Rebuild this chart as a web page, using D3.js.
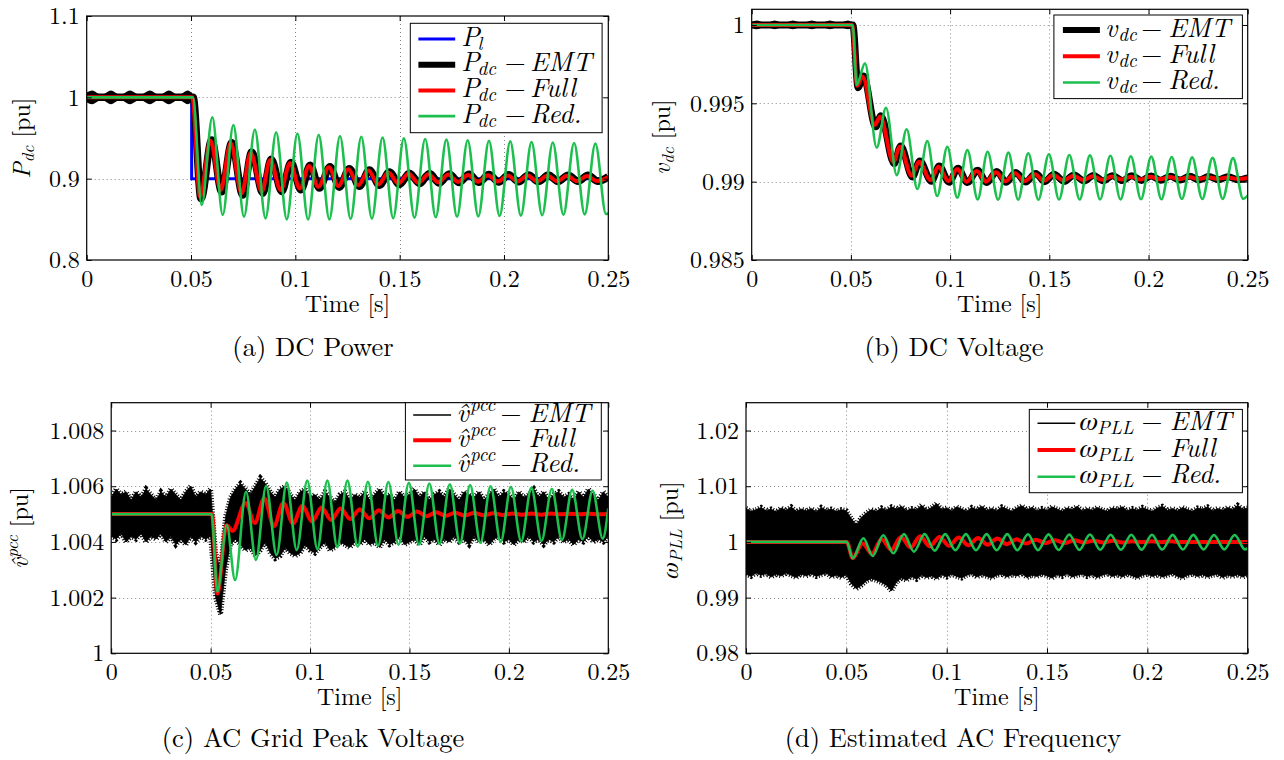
<!DOCTYPE html>
<html>
<head>
<meta charset="utf-8">
<script src="https://cdn.jsdelivr.net/npm/d3@7/dist/d3.min.js"></script>
<style>
  html,body{margin:0;padding:0;background:#fff;}
  svg{display:block;}
  svg text{font-family:"Latin Modern Roman","Liberation Serif",serif; white-space:pre;}
  svg text.greek, svg tspan.greek{font-family:"FreeSerif","Liberation Serif",serif;}
</style>
</head>
<body>
<svg id="chart" width="1284" height="760" xmlns="http://www.w3.org/2000/svg"></svg>
<script>
// ---------------- DATA ----------------
const timeTicks = [0, 0.05, 0.1, 0.15, 0.2, 0.25];
const timeTickText = ["0", "0.05", "0.1", "0.15", "0.2", "0.25"];

const yTicksA = [0.8, 0.9, 1, 1.1];
const yTickTextA = ["0.8", "0.9", "1", "1.1"];
const yTicksB = [0.985, 0.99, 0.995, 1];
const yTickTextB = ["0.985", "0.99", "0.995", "1"];
const yTicksC = [1, 1.002, 1.004, 1.006, 1.008];
const yTickTextC = ["1", "1.002", "1.004", "1.006", "1.008"];
const yTicksD = [0.98, 0.99, 1, 1.01, 1.02];
const yTickTextD = ["0.98", "0.99", "1", "1.01", "1.02"];

const captions = ["(a) DC Power", "(b) DC Voltage", "(c) AC Grid Peak Voltage", "(d) Estimated AC Frequency"];
const xAxisTitle = "Time [s]";

// (a) DC power: load step P_l
const plT = [0, 0.0503, 0.25];
const plV = [1.0, 0.9, 0.9];

// (a) extremum points [time, value]
const pdcEMT = [[0,1.0],[0.0510,1.0],[0.0548,0.8755],[0.0599,0.9475],[0.0647,0.8840],[0.0695,0.9443],[0.0748,0.8800],[0.0791,0.9328],[0.0844,0.8822],[0.0884,0.9238],[0.0935,0.8843],[0.0979,0.9198],[0.1027,0.8864],[0.1071,0.9164],[0.1115,0.8885],[0.1166,0.9148],[0.1211,0.8896],[0.1259,0.9123],[0.1307,0.8907],[0.1355,0.9108],[0.1403,0.8918],[0.1451,0.9083],[0.1499,0.8929],[0.1547,0.9068],[0.1595,0.8940],[0.1643,0.9063],[0.1690,0.8946],[0.1738,0.9058],[0.1785,0.8952],[0.1833,0.9053],[0.1880,0.8956],[0.1928,0.9050],[0.1975,0.8959],[0.2023,0.9048],[0.2070,0.8962],[0.2118,0.9046],[0.2165,0.8964],[0.2213,0.9044],[0.2260,0.8966],[0.2308,0.9043],[0.2355,0.8967],[0.2403,0.9042],[0.2450,0.8968],[0.25,0.9025]];
const pdcFull = [[0,1.0],[0.0506,1.0],[0.0543,0.8778],[0.0594,0.9467],[0.0642,0.8860],[0.0690,0.9435],[0.0743,0.8820],[0.0786,0.9320],[0.0839,0.8840],[0.0879,0.9230],[0.0930,0.8860],[0.0974,0.9190],[0.1022,0.8880],[0.1066,0.9156],[0.1110,0.8900],[0.1161,0.9140],[0.1206,0.8910],[0.1254,0.9115],[0.1302,0.8920],[0.1350,0.9100],[0.1398,0.8930],[0.1446,0.9075],[0.1494,0.8940],[0.1542,0.9060],[0.1590,0.8950],[0.1638,0.9055],[0.1685,0.8955],[0.1733,0.9050],[0.1780,0.8960],[0.1828,0.9045],[0.1875,0.8963],[0.1923,0.9042],[0.1970,0.8965],[0.2018,0.9040],[0.2065,0.8967],[0.2113,0.9038],[0.2160,0.8968],[0.2208,0.9036],[0.2255,0.8970],[0.2303,0.9035],[0.2350,0.8970],[0.2398,0.9034],[0.2445,0.8971],[0.25,0.9020]];
const pdcRed = [[0,1.0],[0.0509,1.0],[0.0551,0.8676],[0.0602,0.9755],[0.0652,0.8553],[0.0703,0.9660],[0.0754,0.8533],[0.0806,0.9605],[0.0857,0.8512],[0.0908,0.9570],[0.0959,0.8500],[0.1010,0.9556],[0.1061,0.8498],[0.1112,0.9538],[0.1163,0.8500],[0.1214,0.9525],[0.1265,0.8504],[0.1316,0.9515],[0.1367,0.8509],[0.1418,0.9505],[0.1469,0.8514],[0.1520,0.9496],[0.1571,0.8520],[0.1622,0.9488],[0.1673,0.8526],[0.1724,0.9480],[0.1775,0.8531],[0.1826,0.9472],[0.1877,0.8536],[0.1928,0.9465],[0.1979,0.8541],[0.2030,0.9458],[0.2081,0.8546],[0.2132,0.9451],[0.2183,0.8551],[0.2234,0.9445],[0.2285,0.8556],[0.2336,0.9438],[0.2387,0.8561],[0.2438,0.9432],[0.2489,0.8566],[0.25,0.8572]];

// pre-step switching ripple of the EMT traces (bulge / neck half widths)
const rippleT = [0, 0.0026, 0.0071, 0.0116, 0.0161, 0.0207, 0.0255, 0.0303, 0.0348, 0.0394, 0.0440, 0.0485, 0.0508];
const rippleHalfA = [0.006, 0.0085, 0.003, 0.0085, 0.003, 0.0085, 0.003, 0.0085, 0.003, 0.0085, 0.003, 0.0085, 0.004];
const rippleHalfB = [0.0002, 0.00028, 0.00012, 0.00028, 0.00012, 0.00028, 0.00012, 0.00028, 0.00012, 0.00028, 0.00012, 0.00028, 0.00015];

// (b) DC voltage
const vdcEMT = [[0,1.0],[0.0510,1.0],[0.0536,0.99600],[0.0563,0.99675],[0.0625,0.99350],[0.0651,0.99420],[0.0718,0.99115],[0.0751,0.99228],[0.0810,0.99030],[0.0847,0.99132],[0.0906,0.99002],[0.0945,0.99100],[0.0995,0.98997],[0.1040,0.99086],[0.1087,0.98994],[0.1138,0.99073],[0.1185,0.98994],[0.1235,0.99065],[0.1283,0.98996],[0.1331,0.99058],[0.1380,0.98998],[0.1432,0.99052],[0.1476,0.99000],[0.1524,0.99047],[0.1575,0.99002],[0.1625,0.99043],[0.1676,0.99004],[0.1722,0.99040],[0.1771,0.99006],[0.1819,0.99038],[0.1868,0.99007],[0.1916,0.99037],[0.1965,0.99008],[0.2013,0.99036],[0.2062,0.99009],[0.2110,0.99035],[0.2159,0.99010],[0.2207,0.99034],[0.2256,0.99011],[0.2304,0.99033],[0.2353,0.99012],[0.2401,0.99032],[0.2450,0.99012],[0.25,0.99025]];
const vdcFull = [[0,1.0],[0.0506,1.0],[0.0532,0.99612],[0.0559,0.99670],[0.0621,0.99362],[0.0647,0.99415],[0.0714,0.99127],[0.0747,0.99223],[0.0806,0.99038],[0.0843,0.99127],[0.0902,0.99010],[0.0941,0.99095],[0.0991,0.99004],[0.1036,0.99081],[0.1083,0.99000],[0.1134,0.99068],[0.1181,0.99000],[0.1231,0.99060],[0.1279,0.99002],[0.1327,0.99053],[0.1376,0.99004],[0.1428,0.99047],[0.1472,0.99006],[0.1520,0.99042],[0.1571,0.99008],[0.1621,0.99038],[0.1672,0.99010],[0.1718,0.99035],[0.1767,0.99012],[0.1815,0.99033],[0.1864,0.99013],[0.1912,0.99032],[0.1961,0.99014],[0.2009,0.99031],[0.2058,0.99015],[0.2106,0.99030],[0.2155,0.99016],[0.2203,0.99029],[0.2252,0.99017],[0.2300,0.99028],[0.2349,0.99018],[0.2397,0.99027],[0.2446,0.99018],[0.25,0.99024]];
const vdcRed = [[0,1.0],[0.0509,1.0],[0.0529,0.99617],[0.0571,0.99755],[0.0630,0.99217],[0.0677,0.99472],[0.0731,0.99042],[0.0781,0.99334],[0.0835,0.98953],[0.0885,0.99259],[0.0935,0.98908],[0.0986,0.99223],[0.1036,0.98898],[0.1087,0.99202],[0.1139,0.98887],[0.1189,0.99191],[0.1242,0.98885],[0.1294,0.99185],[0.1343,0.98885],[0.1394,0.99181],[0.1445,0.98885],[0.1498,0.99175],[0.1549,0.98886],[0.1601,0.99170],[0.1653,0.98886],[0.1705,0.99168],[0.1756,0.98887],[0.1808,0.99165],[0.1859,0.98887],[0.1911,0.99162],[0.1962,0.98888],[0.2014,0.99160],[0.2065,0.98888],[0.2117,0.99157],[0.2168,0.98889],[0.2220,0.99155],[0.2271,0.98889],[0.2323,0.99152],[0.2374,0.98890],[0.2426,0.99150],[0.2477,0.98890],[0.25,0.98910]];

// (c),(d) EMT traces: noisy band, upper/lower envelope sampled every 2.5 ms
const bandStep = 0.0025;
const vpccEMTUpper = [1.0056,1.0059,1.0057,1.0058,1.0055,1.0058,1.0056,1.0059,1.0057,1.0055,1.0058,1.0056,1.0059,1.0057,1.0055,1.0058,1.0060,1.0056,1.0058,1.0057,1.0059,
  1.0036,1.0030,1.0049,1.0056,1.0059,1.0061,1.0059,1.0057,1.0060,1.0063,1.0061,1.0058,1.0056,1.0059,1.0060,1.0057,1.0055,1.0058,1.0059,
  1.0056,1.0057,1.0055,1.0058,1.0056,1.0054,1.0057,1.0058,1.0055,1.0057,1.0056,1.0058,1.0055,1.0057,1.0059,1.0056,1.0057,1.0055,1.0058,1.0056,
  1.0057,1.0059,1.0056,1.0058,1.0055,1.0057,1.0058,1.0056,1.0059,1.0057,1.0055,1.0058,1.0057,1.0056,1.0058,1.0055,1.0057,1.0059,1.0056,1.0058,
  1.0057,1.0055,1.0058,1.0056,1.0057,1.0059,1.0056,1.0058,1.0055,1.0057,1.0058,1.0056,1.0057,1.0055,1.0058,1.0056,1.0059,1.0057,1.0055,1.0058,1.0056];
const vpccEMTLower = [1.0042,1.0041,1.0043,1.0040,1.0042,1.0041,1.0043,1.0040,1.0042,1.0041,1.0043,1.0040,1.0042,1.0039,1.0041,1.0039,1.0042,1.0040,1.0042,1.0041,1.0042,
  1.0020,1.0014,1.0030,1.0039,1.0041,1.0039,1.0037,1.0038,1.0035,1.0037,1.0040,1.0036,1.0034,1.0035,1.0038,1.0036,1.0035,1.0036,1.0039,
  1.0037,1.0036,1.0038,1.0040,1.0037,1.0038,1.0040,1.0039,1.0038,1.0040,1.0039,1.0041,1.0039,1.0040,1.0038,1.0041,1.0039,1.0040,1.0042,1.0039,
  1.0040,1.0041,1.0039,1.0042,1.0040,1.0041,1.0039,1.0041,1.0040,1.0042,1.0040,1.0041,1.0039,1.0042,1.0040,1.0041,1.0039,1.0041,1.0042,1.0040,
  1.0041,1.0039,1.0041,1.0040,1.0042,1.0040,1.0041,1.0039,1.0041,1.0040,1.0042,1.0040,1.0041,1.0039,1.0041,1.0040,1.0042,1.0040,1.0041,1.0040,1.0042];
const vpccFull = [[0,1.005],[0.0507,1.005],[0.0534,1.00215],[0.0580,1.00460],[0.0610,1.00440],[0.0676,1.00540],[0.0722,1.00468],[0.0770,1.00557],[0.0818,1.00457],[0.0866,1.00540],[0.0914,1.00467],[0.0962,1.00530],[0.1010,1.00473],[0.1058,1.00524],[0.1106,1.00479],[0.1154,1.00520],[0.1202,1.00482],[0.1250,1.00517],[0.1298,1.00485],[0.1346,1.00514],[0.1394,1.00488],[0.1442,1.00511],[0.1490,1.00490],[0.1538,1.00509],[0.1586,1.00492],[0.1634,1.00507],[0.1682,1.00494],[0.1730,1.00505],[0.1778,1.00495],[0.1826,1.00504],[0.1874,1.00496],[0.1922,1.00503],[0.1970,1.00497],[0.2018,1.00502],[0.2066,1.00498],[0.2114,1.00502],[0.2162,1.00498],[0.2210,1.00502],[0.2258,1.00499],[0.2306,1.00501],[0.2354,1.00499],[0.2402,1.00501],[0.2450,1.00499],[0.25,1.00500]];
const vpccRed = [[0,1.005],[0.0505,1.005],[0.0534,1.00221],[0.0581,1.00461],[0.0623,1.00263],[0.0678,1.00580],[0.0728,1.00335],[0.0779,1.00601],[0.0832,1.00353],[0.0883,1.00613],[0.0933,1.00371],[0.0986,1.00620],[0.1037,1.00375],[0.1087,1.00620],[0.1137,1.00381],[0.1188,1.00620],[0.1240,1.00383],[0.1291,1.00616],[0.1342,1.00386],[0.1394,1.00615],[0.1445,1.00390],[0.1497,1.00612],[0.1548,1.00390],[0.1600,1.00610],[0.1651,1.00393],[0.1703,1.00607],[0.1754,1.00395],[0.1805,1.00604],[0.1857,1.00397],[0.1908,1.00600],[0.1959,1.00400],[0.2010,1.00597],[0.2062,1.00402],[0.2113,1.00594],[0.2164,1.00404],[0.2216,1.00590],[0.2267,1.00407],[0.2318,1.00587],[0.2370,1.00410],[0.2421,1.00584],[0.2472,1.00412],[0.25,1.00520]];

const wpllEMTUpper = [1.0060,1.0055,1.0058,1.0062,1.0056,1.0059,1.0054,1.0061,1.0057,1.0063,1.0055,1.0059,1.0056,1.0060,1.0054,1.0062,1.0057,1.0059,1.0055,1.0058,1.0056,
  1.0042,1.0030,1.0044,1.0052,1.0058,1.0055,1.0061,1.0057,1.0063,1.0059,1.0064,1.0056,1.0060,1.0058,1.0066,1.0057,1.0062,1.0069,1.0058,
  1.0061,1.0056,1.0063,1.0059,1.0055,1.0062,1.0058,1.0064,1.0057,1.0060,1.0056,1.0063,1.0059,1.0055,1.0061,1.0065,1.0058,1.0062,1.0056,1.0060,
  1.0057,1.0063,1.0059,1.0055,1.0061,1.0058,1.0064,1.0056,1.0060,1.0057,1.0062,1.0058,1.0055,1.0061,1.0059,1.0063,1.0056,1.0060,1.0057,1.0062,
  1.0058,1.0055,1.0061,1.0064,1.0057,1.0060,1.0056,1.0062,1.0058,1.0055,1.0061,1.0059,1.0063,1.0056,1.0060,1.0057,1.0062,1.0058,1.0066,1.0059,1.0061];
const wpllEMTLower = [0.9942,0.9938,0.9944,0.9940,0.9943,0.9937,0.9942,0.9939,0.9944,0.9940,0.9936,0.9942,0.9939,0.9943,0.9938,0.9941,0.9944,0.9937,0.9940,0.9936,0.9941,
  0.9925,0.9916,0.9922,0.9930,0.9934,0.9931,0.9927,0.9922,0.9912,0.9928,0.9935,0.9931,0.9938,0.9933,0.9940,0.9936,0.9939,0.9934,0.9941,
  0.9937,0.9942,0.9938,0.9935,0.9940,0.9943,0.9937,0.9941,0.9938,0.9935,0.9940,0.9942,0.9937,0.9941,0.9939,0.9943,0.9936,0.9940,0.9938,0.9942,
  0.9939,0.9935,0.9941,0.9938,0.9943,0.9937,0.9940,0.9942,0.9938,0.9941,0.9936,0.9940,0.9943,0.9938,0.9941,0.9937,0.9942,0.9939,0.9935,0.9940,
  0.9942,0.9938,0.9941,0.9937,0.9940,0.9943,0.9938,0.9935,0.9940,0.9942,0.9938,0.9941,0.9937,0.9940,0.9942,0.9936,0.9940,0.9938,0.9941,0.9937,0.9941];
const wpllFull = [[0,1.0],[0.0502,1.0],[0.0532,0.9971],[0.0580,0.9997],[0.0628,0.9979],[0.0676,1.0005],[0.0724,0.9986],[0.0772,1.0009],[0.0820,0.9990],[0.0868,1.0010],[0.0916,0.9992],[0.0964,1.0009],[0.1012,0.9993],[0.1060,1.0008],[0.1108,0.9994],[0.1156,1.0007],[0.1204,0.9995],[0.1252,1.0006],[0.1300,0.9996],[0.1348,1.0005],[0.1396,0.9997],[0.1444,1.0004],[0.1492,0.9998],[0.1540,1.0003],[0.1588,0.9998],[0.1636,1.0003],[0.1684,0.9999],[0.1732,1.0002],[0.1780,0.9999],[0.1828,1.0002],[0.1876,0.9999],[0.1924,1.0001],[0.1972,0.99995],[0.2020,1.0001],[0.2068,0.99995],[0.2116,1.0001],[0.2164,1.0],[0.25,1.0]];
const wpllRed = [[0,1.0],[0.0502,1.0],[0.0532,0.99706],[0.0585,1.00065],[0.0631,0.99747],[0.0684,1.00120],[0.0734,0.99796],[0.0787,1.00140],[0.0837,0.99826],[0.0890,1.00140],[0.0940,0.99844],[0.0993,1.00140],[0.1043,0.99850],[0.1096,1.00140],[0.1146,0.99850],[0.1199,1.00140],[0.1249,0.99850],[0.1302,1.00140],[0.1352,0.99850],[0.1405,1.00138],[0.1455,0.99852],[0.1508,1.00136],[0.1558,0.99855],[0.1611,1.00134],[0.1661,0.99857],[0.1714,1.00132],[0.1765,0.99859],[0.1817,1.00130],[0.1868,0.99860],[0.1920,1.00130],[0.1971,0.99862],[0.2023,1.00128],[0.2074,0.99863],[0.2126,1.00127],[0.2177,0.99864],[0.2229,1.00126],[0.2280,0.99865],[0.2332,1.00125],[0.2383,0.99866],[0.2435,1.00124],[0.2486,0.99867],[0.25,0.99890]];

// legend texts
const legendA = [{sym:"P", scr:"l", word:null}, {sym:"P", scr:"dc", word:"EMT"}, {sym:"P", scr:"dc", word:"Full"}, {sym:"P", scr:"dc", word:"Red."}];
const legendB = [{sym:"v", scr:"dc", word:"EMT"}, {sym:"v", scr:"dc", word:"Full"}, {sym:"v", scr:"dc", word:"Red."}];
const legendC = [{sym:"v\u0302", scr:"pcc", word:"EMT"}, {sym:"v\u0302", scr:"pcc", word:"Full"}, {sym:"v\u0302", scr:"pcc", word:"Red."}];
const legendD = [{sym:"ω", scr:"PLL", word:"EMT", greek:true}, {sym:"ω", scr:"PLL", word:"Full", greek:true}, {sym:"ω", scr:"PLL", word:"Red.", greek:true}];

// ---------------- DRAWING ----------------
const COL = {blue:"#0000ff", black:"#000000", red:"#ff0000", green:"#1dbf4f"};
const svg = d3.select("#chart");
svg.append("rect").attr("width",1284).attr("height",760).attr("fill","#fff");
const defs = svg.append("defs");

function setupPanel(key, box, yDom, yTicks) {
  const x = d3.scaleLinear().domain([0, 0.25]).range([box.L, box.R]);
  const y = d3.scaleLinear().domain(yDom).range([box.B, box.T]);
  defs.append("clipPath").attr("id", "clip-" + key).append("rect")
    .attr("x", box.L).attr("y", box.T).attr("width", box.R - box.L).attr("height", box.B - box.T);
  const g = svg.append("g");
  const gg = g.append("g").attr("stroke", "#8a8a8a").attr("stroke-width", 1)
    .attr("stroke-dasharray", "1,3").attr("fill", "none");
  timeTicks.forEach(t => {
    if (t > 1e-9 && t < 0.25 - 1e-9) {
      const xx = Math.round(x(t)) + 0.5;
      gg.append("line").attr("x1", xx).attr("x2", xx).attr("y1", box.T).attr("y2", box.B);
    }
  });
  yTicks.forEach(v => {
    if (v > yDom[0] + 1e-9 && v < yDom[1] - 1e-9) {
      const yy = Math.round(y(v)) + 0.5;
      gg.append("line").attr("x1", box.L).attr("x2", box.R).attr("y1", yy).attr("y2", yy);
    }
  });
  const plot = g.append("g").attr("clip-path", `url(#clip-${key})`);
  return {key, box, x, y, g, plot};
}

function lineOf(P, data, color, width) {
  const gen = d3.line().x(d => P.x(d[0])).y(d => P.y(d[1])).curve(d3.curveMonotoneX);
  P.plot.append("path").attr("d", gen(data)).attr("fill", "none").attr("stroke", color)
    .attr("stroke-width", width).attr("stroke-linejoin", "round").attr("stroke-linecap", "butt");
}

function rippleBand(P, center, halves) {
  const pts = rippleT.map((t, i) => [t, halves[i]]);
  const area = d3.area().x(d => P.x(d[0])).y0(d => P.y(center - d[1])).y1(d => P.y(center + d[1])).curve(d3.curveMonotoneX);
  P.plot.append("path").attr("d", area(pts)).attr("fill", COL.black);
}

function noiseBand(P, upper, lower) {
  const pts = upper.map((u, i) => [i * bandStep, u, lower[i]]);
  const area = d3.area().x(d => P.x(d[0])).y0(d => P.y(d[2])).y1(d => P.y(d[1])).curve(d3.curveLinear);
  P.plot.append("path").attr("d", area(pts)).attr("fill", COL.black).attr("stroke", COL.black).attr("stroke-width", 0.7);
  // fuzzy edges (dense needle-like noise look)
  const up = d3.line().x(d => P.x(d[0])).y(d => P.y(d[1]));
  const lo = d3.line().x(d => P.x(d[0])).y(d => P.y(d[2]));
  [up, lo].forEach(gen => {
    P.plot.append("path").attr("d", gen(pts)).attr("fill", "none").attr("stroke", COL.black)
      .attr("stroke-width", 5).attr("stroke-dasharray", "1,1.7");
  });
}

function finishPanel(P, yTicks, yTickText) {
  const {box, x, y, g} = P;
  const style = sel => {
    sel.select(".domain").remove();
    sel.attr("font-size", 24);
    sel.selectAll("text").attr("fill", "#000");
    sel.selectAll("line").attr("stroke", "#000");
  };
  g.append("g").attr("transform", `translate(0,${box.B})`)
    .call(d3.axisBottom(x).tickValues(timeTicks).tickFormat((d, i) => timeTickText[i]).tickSize(-5).tickPadding(10)).call(style);
  g.append("g").attr("transform", `translate(0,${box.T})`)
    .call(d3.axisTop(x).tickValues(timeTicks).tickFormat(() => "").tickSize(-5)).call(style);
  g.append("g").attr("transform", `translate(${box.L},0)`)
    .call(d3.axisLeft(y).tickValues(yTicks).tickFormat((d, i) => yTickText[i]).tickSize(-5).tickPadding(7)).call(style);
  g.append("g").attr("transform", `translate(${box.R},0)`)
    .call(d3.axisRight(y).tickValues(yTicks).tickFormat(() => "").tickSize(-5)).call(style);
  g.append("rect").attr("x", box.L).attr("y", box.T).attr("width", box.R - box.L).attr("height", box.B - box.T)
    .attr("fill", "none").attr("stroke", "#000").attr("stroke-width", 1.2);
  g.append("text").attr("x", (box.L + box.R) / 2).attr("y", box.B + 52).attr("text-anchor", "middle")
    .attr("font-size", 24).text(xAxisTitle);
}

function yLabel(cx, cy, parts) {
  const t = svg.append("text").attr("transform", `translate(${cx + 8},${cy}) rotate(-90)`)
    .attr("text-anchor", "middle").attr("font-size", 24);
  parts.forEach(p => {
    const s = t.append("tspan").text(p.t).attr("font-style", p.it ? "italic" : "normal");
    if (p.greek) s.attr("class", "greek");
    if (p.size) s.attr("font-size", p.size);
    if (p.dy) s.attr("dy", p.dy);
    if (p.dx) s.attr("dx", p.dx);
  });
}

function caption(cx, base, txt) {
  svg.append("text").attr("x", cx).attr("y", base).attr("text-anchor", "middle").attr("font-size", 26.5).text(txt);
}

function legend(cfg, entries, styles) {
  const g = svg.append("g");
  g.append("rect").attr("x", cfg.box[0]).attr("y", cfg.box[1]).attr("width", cfg.box[2] - cfg.box[0])
    .attr("height", cfg.box[3] - cfg.box[1]).attr("fill", "#fff").attr("stroke", "#000").attr("stroke-width", 1);
  entries.forEach((e, i) => {
    const yl = cfg.rows[i];
    const base = yl + 6.5;
    g.append("line").attr("x1", cfg.s0).attr("x2", cfg.s1).attr("y1", yl).attr("y2", yl)
      .attr("stroke", styles[i].c).attr("stroke-width", styles[i].w);
    const s = g.append("text").attr("x", cfg.symX).attr("y", base).attr("font-style", "italic").attr("font-size", 27).text(e.sym);
    if (e.greek) s.attr("class", "greek");
    g.append("text").attr("x", cfg.scrX).attr("y", cfg.sup ? base - 11 : base + 4)
      .attr("font-style", "italic").attr("font-size", 19).text(e.scr);
    if (e.word) {
      g.append("text").attr("x", cfg.minusX).attr("y", base).attr("text-anchor", "middle").attr("font-size", 27).text("−");
      g.append("text").attr("x", cfg.wordX).attr("y", base).attr("font-style", "italic").attr("font-size", 27).text(e.word);
    }
  });
}

// ---- Panel (a)
const A = setupPanel("a", {L:86.7, R:608.3, T:16, B:260}, [0.8, 1.1], yTicksA);
{
  const step = d3.line().x((d, i) => A.x(plT[i])).y((d, i) => A.y(plV[i])).curve(d3.curveStepAfter);
  A.plot.append("path").attr("d", step(plT)).attr("fill", "none").attr("stroke", COL.blue).attr("stroke-width", 3);
  rippleBand(A, 1.0, rippleHalfA);
  lineOf(A, pdcEMT, COL.black, 7.5);
  lineOf(A, pdcFull, COL.red, 4);
  lineOf(A, pdcRed, COL.green, 2.6);
}
finishPanel(A, yTicksA, yTickTextA);

// ---- Panel (b)
const B = setupPanel("b", {L:751.7, R:1247.7, T:9.3, B:260}, [0.985, 1.001], yTicksB);
rippleBand(B, 1.0, rippleHalfB);
lineOf(B, vdcEMT, COL.black, 7);
lineOf(B, vdcFull, COL.red, 4);
lineOf(B, vdcRed, COL.green, 2.6);
finishPanel(B, yTicksB, yTickTextB);

// ---- Panel (c)
const C = setupPanel("c", {L:111.2, R:608.3, T:402.7, B:653.3}, [1, 1.009], yTicksC);
noiseBand(C, vpccEMTUpper, vpccEMTLower);
lineOf(C, vpccFull, COL.red, 4);
lineOf(C, vpccRed, COL.green, 2.6);
finishPanel(C, yTicksC, yTickTextC);

// ---- Panel (d)
const D = setupPanel("d", {L:746, R:1247.7, T:402.7, B:653.3}, [0.98, 1.025], yTicksD);
noiseBand(D, wpllEMTUpper, wpllEMTLower);
lineOf(D, wpllFull, COL.red, 4);
lineOf(D, wpllRed, COL.green, 2.6);
finishPanel(D, yTicksD, yTickTextD);

// ---- y labels
yLabel(21.7, 138, [{t:"P", it:true}, {t:"dc", it:true, size:17, dy:4}, {t:" [pu]", dy:-4}]);
yLabel(661.7, 137, [{t:"v", it:true}, {t:"dc", it:true, size:17, dy:4}, {t:" [pu]", dy:-4}]);
yLabel(20.4, 528, [{t:"v\u0302", it:true}, {t:"pcc", it:true, size:17, dy:-10}, {t:" [pu]", dy:10}]);
yLabel(670, 530, [{t:"ω", it:true, greek:true}, {t:"PLL", it:true, size:17, dy:4}, {t:" [pu]", dy:-4}]);

// ---- captions
caption(313, 356, captions[0]);
caption(954, 356, captions[1]);
caption(313, 746.7, captions[2]);
caption(953, 746.7, captions[3]);

// ---- legends
legend({box:[410.3, 23.3, 602.1, 132.7], rows:[39, 64.7, 90.4, 116.1], s0:418.4, s1:455.2, symX:461.3, scrX:477.6, minusX:515.3, wordX:530},
  legendA, [{c:COL.blue, w:3}, {c:COL.black, w:6}, {c:COL.red, w:4}, {c:COL.green, w:2.6}]);
legend({box:[1053.9, 15, 1242.4, 98.6], rows:[30, 56.3, 82.5], s0:1062.9, s1:1099.9, symX:1105, scrX:1118.3, minusX:1151.7, wordX:1168.3},
  legendB, [{c:COL.black, w:6}, {c:COL.red, w:4}, {c:COL.green, w:2.6}]);
legend({box:[405.4, 402.7, 601.3, 480], rows:[415, 440.3, 465.7], s0:413.2, s1:451.1, symX:456.4, scrX:470, minusX:511, wordX:528.6, sup:true},
  legendC, [{c:COL.black, w:1.5}, {c:COL.red, w:4}, {c:COL.green, w:2.6}]);
legend({box:[1029.3, 409.4, 1242.4, 492.7], rows:[423.3, 450, 476.7], s0:1037.5, s1:1075.3, symX:1079.4, scrX:1097, minusX:1152, wordX:1169.7},
  legendD, [{c:COL.black, w:1.5}, {c:COL.red, w:4}, {c:COL.green, w:2.6}]);
</script>
</body>
</html>
